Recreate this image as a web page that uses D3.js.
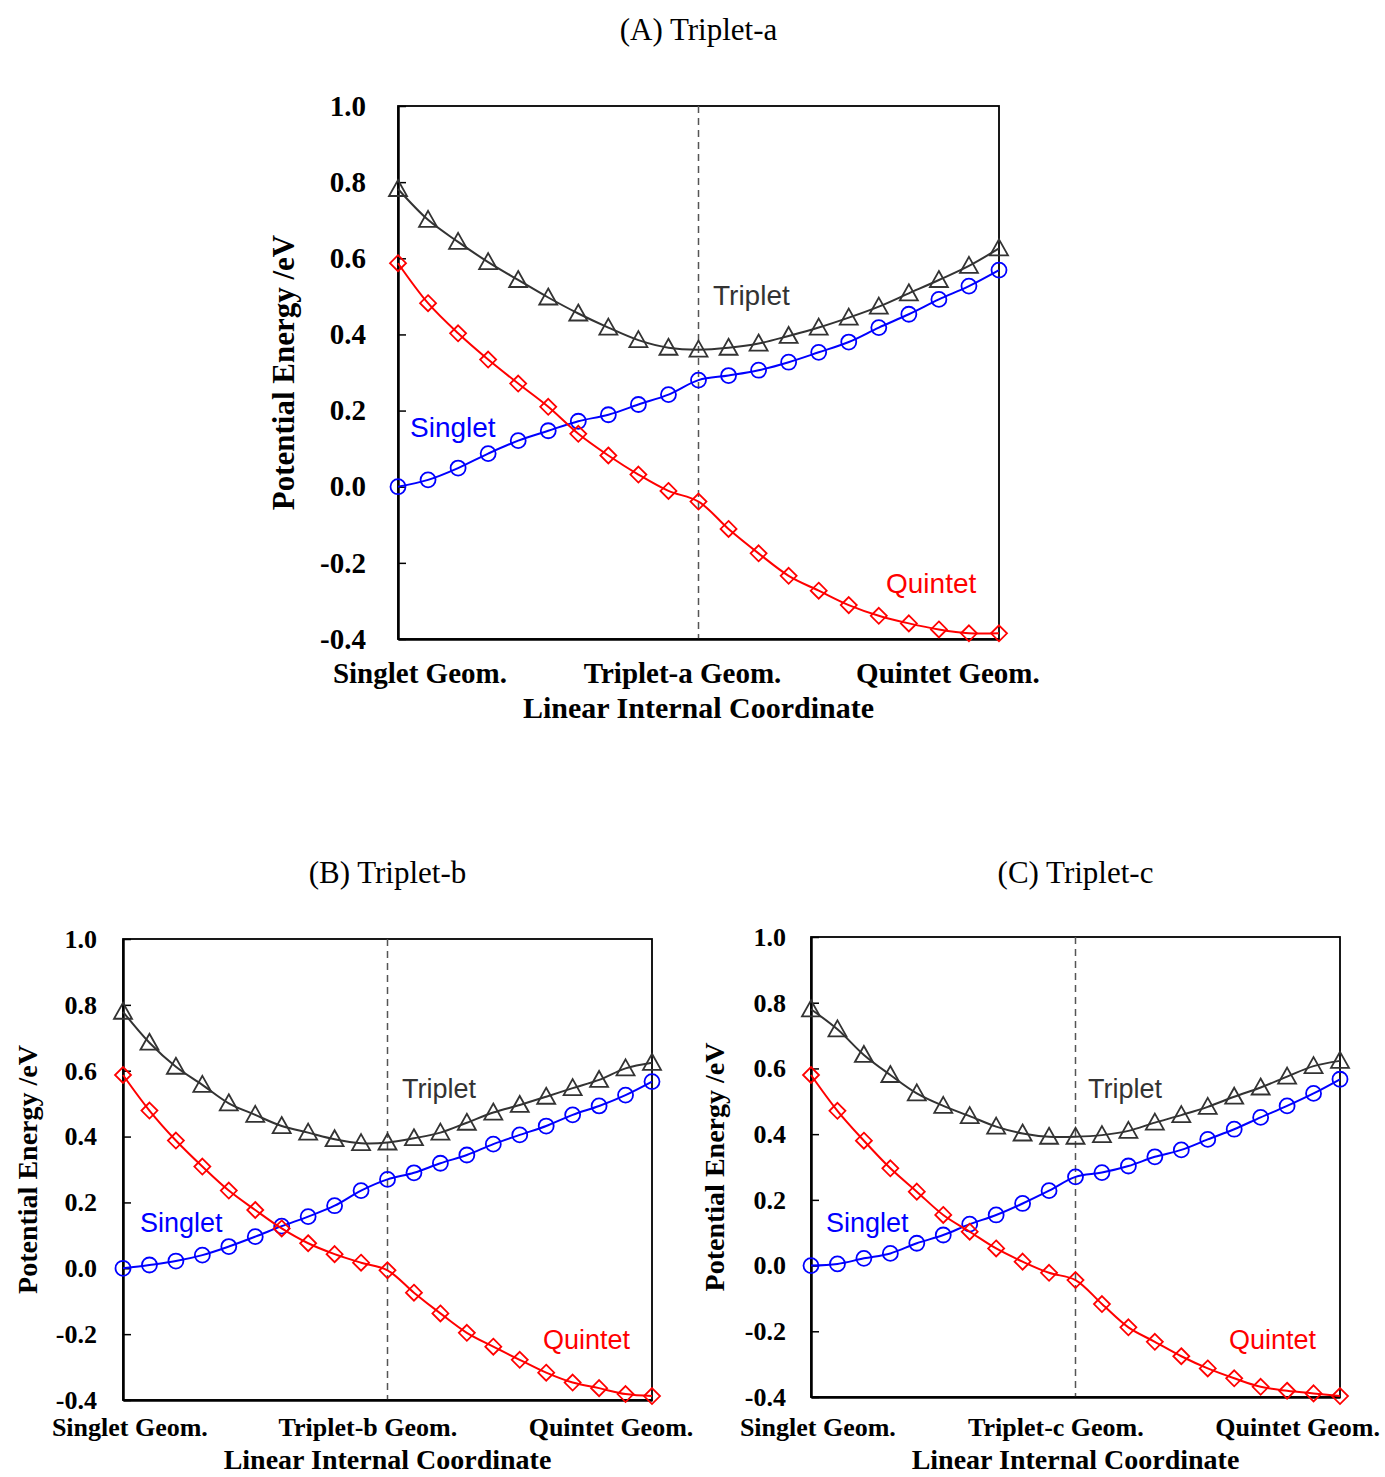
<!DOCTYPE html>
<html>
<head>
<meta charset="utf-8">
<script src="https://cdn.jsdelivr.net/npm/d3@7"></script>
<style>
  body { margin: 0; background: #fff; }
</style>
</head>
<body>
<script>
// tick labels of the energy axis
var yTicks = [1.0, 0.8, 0.6, 0.4, 0.2, 0.0, -0.2, -0.4]

var titles = ['(A) Triplet-a', '(B) Triplet-b', '(C) Triplet-c']
var geomA = ['Singlet Geom.', 'Triplet-a Geom.', 'Quintet Geom.']
var geomB = ['Singlet Geom.', 'Triplet-b Geom.', 'Quintet Geom.']
var geomC = ['Singlet Geom.', 'Triplet-c Geom.', 'Quintet Geom.']
var seriesNames = ['Triplet', 'Singlet', 'Quintet']

// (A) Triplet-a, 21 points along the path
var tripletA = [0.782, 0.701, 0.643, 0.590, 0.543, 0.497, 0.455, 0.418, 0.385, 0.365, 0.360,
                0.365, 0.376, 0.396, 0.418, 0.444, 0.473, 0.508, 0.543, 0.580, 0.626]
var singletA = [0.000, 0.018, 0.049, 0.087, 0.121, 0.147, 0.172, 0.189, 0.216, 0.242, 0.280,
                0.292, 0.306, 0.327, 0.353, 0.380, 0.418, 0.453, 0.492, 0.527, 0.569]
var quintetA = [0.587, 0.482, 0.403, 0.334, 0.271, 0.210, 0.139, 0.082, 0.032, -0.011, -0.039,
                -0.111, -0.175, -0.234, -0.273, -0.311, -0.339, -0.359, -0.375, -0.385, -0.385]

// (B) Triplet-b
var tripletB = [0.779, 0.685, 0.612, 0.557, 0.501, 0.466, 0.432, 0.412, 0.392, 0.380, 0.382,
                0.395, 0.412, 0.442, 0.473, 0.496, 0.521, 0.547, 0.572, 0.607, 0.624]
var singletB = [0.000, 0.010, 0.022, 0.040, 0.066, 0.096, 0.128, 0.157, 0.190, 0.236, 0.270,
                0.290, 0.319, 0.344, 0.377, 0.405, 0.432, 0.466, 0.493, 0.526, 0.567]
var quintetB = [0.587, 0.479, 0.388, 0.309, 0.236, 0.177, 0.121, 0.076, 0.043, 0.017, -0.006,
                -0.074, -0.137, -0.196, -0.238, -0.278, -0.317, -0.347, -0.364, -0.382, -0.388]

// (C) Triplet-c
var tripletC = [0.780, 0.719, 0.641, 0.580, 0.524, 0.486, 0.455, 0.423, 0.402, 0.392, 0.392,
                0.397, 0.410, 0.435, 0.458, 0.483, 0.514, 0.542, 0.575, 0.607, 0.623]
var singletC = [0.000, 0.005, 0.022, 0.037, 0.068, 0.093, 0.126, 0.154, 0.189, 0.228, 0.270,
                0.283, 0.303, 0.331, 0.352, 0.384, 0.415, 0.451, 0.486, 0.524, 0.567]
var quintetC = [0.580, 0.471, 0.380, 0.296, 0.225, 0.154, 0.103, 0.052, 0.012, -0.022, -0.044,
                -0.117, -0.188, -0.232, -0.276, -0.313, -0.343, -0.369, -0.381, -0.389, -0.397]

var midIndex = 10   // the triplet geometry (dashed line)

var serif = '"Liberation Serif", "Times New Roman", serif'
var sans = '"Liberation Sans", Arial, sans-serif'
var colors = {Triplet: '#333333', Singlet: '#0000ff', Quintet: '#ff0000'}

// layout of the three panels (pixels)
var panels = [
  {title: titles[0], geom: geomA, series: [tripletA, singletA, quintetA],
   left: 398, right: 999, top: 106, bottom: 639, titleY: 40,
   tickFont: 29, tickPad: 32, catFont: 29, catY: 683, catPos: [0.73, 9.47, 18.3],
   axFont: 30, yFont: 31, axY: 718, yTitleX: 283, nameFont: 28,
   names: [[713, 305], [410, 437], [886, 593]]},
  {title: titles[1], geom: geomB, series: [tripletB, singletB, quintetB],
   left: 123, right: 652, top: 939, bottom: 1400, titleY: 883,
   tickFont: 26, tickPad: 26, catFont: 26, catY: 1436, catPos: [0.26, 9.26, 18.45],
   axFont: 28, yFont: 28, axY: 1469, yTitleX: 27, nameFont: 27,
   names: [[402, 1098], [140, 1232], [543, 1349]]},
  {title: titles[2], geom: geomC, series: [tripletC, singletC, quintetC],
   left: 811, right: 1340, top: 937, bottom: 1397, titleY: 883,
   tickFont: 26, tickPad: 25, catFont: 26, catY: 1436, catPos: [0.26, 9.26, 18.4],
   axFont: 28, yFont: 28, axY: 1469, yTitleX: 714, nameFont: 27,
   names: [[1088, 1098], [826, 1232], [1229, 1349]]}
]

var svg = d3.select('body').append('svg')
            .attr('width', 1385)
            .attr('height', 1477)

function marker(name) {
  if (name == 'Triplet') return 'M0,-9L9,7L-9,7Z'
  if (name == 'Quintet') return 'M0,-8L8,0L0,8L-8,0Z'
  return d3.symbol().type(d3.symbolCircle).size(Math.PI * 7.5 * 7.5)()
}

// plain hyphen for negatives, like the original
function tickText(d) { return d.toFixed(1) }

panels.forEach(function(p) {
  var n = p.series[0].length
  var x = d3.scaleLinear().domain([0, n - 1]).range([p.left, p.right])
  var y = d3.scaleLinear().domain([-0.4, 1.0]).range([p.bottom, p.top])
  var g = svg.append('g')

  // title
  g.append('text')
    .attr('x', (p.left + p.right) / 2)
    .attr('y', p.titleY)
    .attr('text-anchor', 'middle')
    .style('font-family', serif)
    .style('font-size', '31px')
    .text(p.title)

  // frame
  g.append('rect')
    .attr('x', p.left).attr('y', p.top)
    .attr('width', p.right - p.left).attr('height', p.bottom - p.top)
    .attr('fill', 'none').attr('stroke', '#000').attr('stroke-width', 1.8)

  // dashed line at the triplet geometry
  g.append('line')
    .attr('x1', x(midIndex)).attr('x2', x(midIndex))
    .attr('y1', p.top).attr('y2', p.bottom)
    .attr('stroke', '#555').attr('stroke-width', 1.5)
    .attr('stroke-dasharray', '7,5')

  // y axis, ticks pointing inside
  var yAxis = g.append('g')
    .attr('transform', 'translate(' + p.left + ',0)')
    .call(d3.axisLeft(y).tickValues(yTicks).tickSize(-8).tickSizeOuter(0)
          .tickPadding(p.tickPad).tickFormat(tickText))
  yAxis.select('.domain').attr('stroke-width', 2.5)
  yAxis.selectAll('.tick line').attr('stroke-width', 1.5)
  yAxis.selectAll('text')
    .style('font-family', serif).style('font-size', p.tickFont + 'px')
    .style('font-weight', 'bold').attr('fill', '#000')

  // bottom axis line only
  var xAxis = g.append('g')
    .attr('transform', 'translate(0,' + p.bottom + ')')
    .call(d3.axisBottom(x).tickValues([]).tickSizeOuter(0))
  xAxis.select('.domain').attr('stroke-width', 2.5)

  // geometry labels under the axis
  g.selectAll('.cat')
    .data(p.geom)
    .enter()
    .append('text')
    .attr('x', function(d, i) { return x(p.catPos[i]) })
    .attr('y', p.catY)
    .attr('text-anchor', 'middle')
    .style('font-family', serif).style('font-size', p.catFont + 'px').style('font-weight', 'bold')
    .text(function(d) { return d })

  g.append('text')
    .attr('x', (p.left + p.right) / 2)
    .attr('y', p.axY)
    .attr('text-anchor', 'middle')
    .style('font-family', serif).style('font-size', p.axFont + 'px').style('font-weight', 'bold')
    .text('Linear Internal Coordinate')

  g.append('text')
    .attr('transform', 'translate(' + p.yTitleX + ',' + (p.top + p.bottom) / 2 + ') rotate(-90)')
    .attr('dy', '0.35em')
    .attr('text-anchor', 'middle')
    .style('font-family', serif).style('font-size', p.yFont + 'px').style('font-weight', 'bold')
    .text('Potential Energy /eV')

  // curves and markers
  var line = d3.line()
    .x(function(d, i) { return x(i) })
    .y(function(d) { return y(d) })
    .curve(d3.curveCatmullRom.alpha(0.5))

  p.series.forEach(function(values, k) {
    var name = seriesNames[k]
    g.append('path')
      .datum(values)
      .attr('d', line)
      .attr('fill', 'none')
      .attr('stroke', colors[name])
      .attr('stroke-width', 2)

    g.selectAll('.m' + k)
      .data(values)
      .enter()
      .append('path')
      .attr('transform', function(d, i) { return 'translate(' + x(i) + ',' + y(d) + ')' })
      .attr('d', marker(name))
      .attr('fill', 'none')
      .attr('stroke', colors[name])
      .attr('stroke-width', 1.8)

    g.append('text')
      .attr('x', p.names[k][0])
      .attr('y', p.names[k][1])
      .style('font-family', sans).style('font-size', p.nameFont + 'px')
      .attr('fill', colors[name])
      .text(name)
  })
})
</script>
</body>
</html>
